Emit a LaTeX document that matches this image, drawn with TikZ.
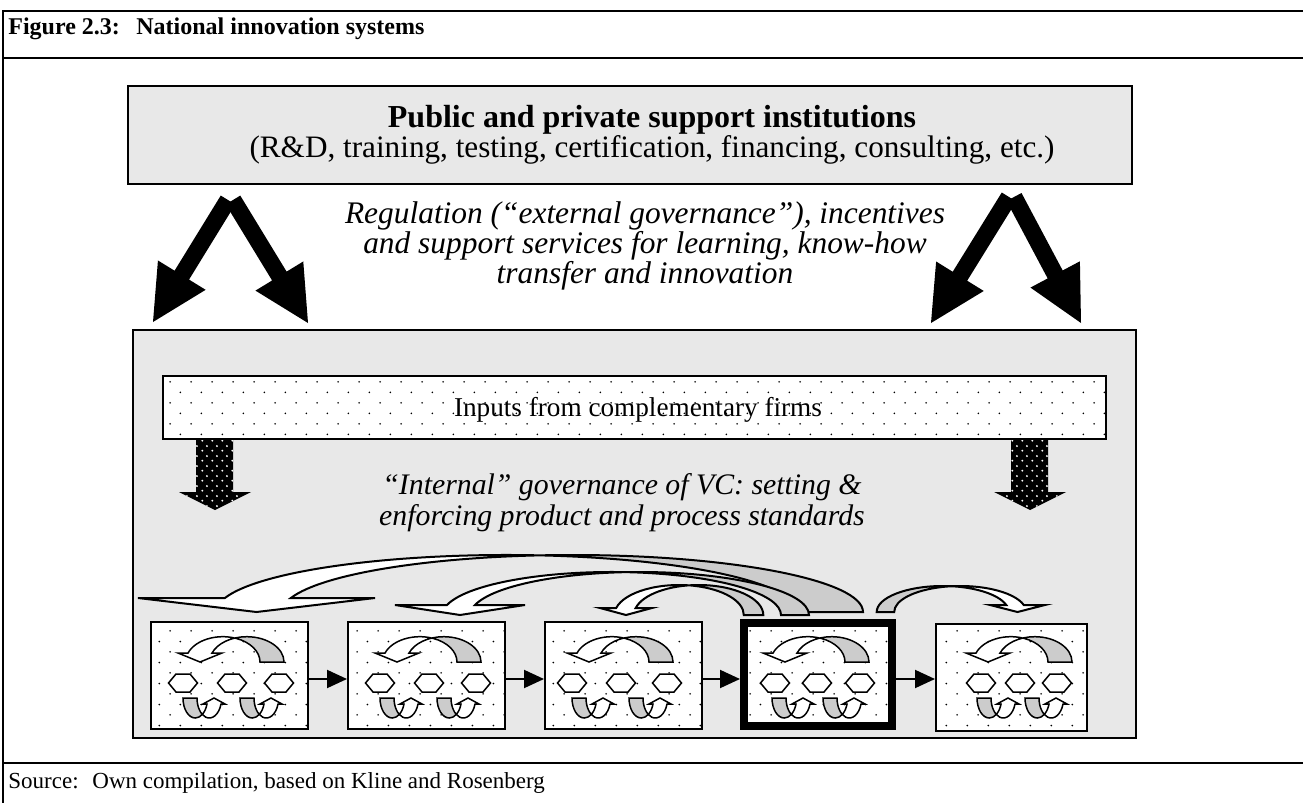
\documentclass[tikz,border=0pt]{standalone}
\usepackage{fontspec}
\setmainfont{Liberation Serif}
\usetikzlibrary{patterns.meta,calc,arrows.meta}

\definecolor{panelgray}{gray}{0.91}
\definecolor{backgray}{gray}{0.80}

% sparse staggered dots (light raster of the firm boxes)
\tikzdeclarepattern{name=sparsedots,type=uncolored,
  bottom left={(0pt,0pt)},top right={(10.35pt,10.4pt)},
  tile size={(10.35pt,10.4pt)},
  code={\fill (2.6pt,2.6pt) circle[radius=0.45pt];
        \fill (7.775pt,7.8pt) circle[radius=0.45pt];}}
% dense staggered dots (raster of the input arrows)
\tikzdeclarepattern{name=densedots,type=uncolored,
  bottom left={(0pt,0pt)},top right={(5pt,5pt)},
  tile size={(5pt,5pt)},
  code={\fill (1.25pt,1.25pt) circle[radius=0.55pt];
        \fill (3.75pt,3.75pt) circle[radius=0.55pt];}}

% Curved ribbon arrow: two equal half-ellipses shifted by the band width.
% #1 centre of front edge, #2 centre of back edge, #3 x radius, #4 y radius,
% #5 base line, #6 head base line, #7/#8 head barbs (head on the left)
\newcommand\cvarrow[8]{%
  \pgfmathsetmacro\cvAl{asin((#5-#6)/#4)}%
  \pgfmathsetmacro\cvHs{\cvAl-180}%
  \pgfmathsetmacro\cvU{(#2-#1)/(2*#3)}%
  \pgfmathsetmacro\cvTA{-acos(\cvU)}%
  \pgfmathsetmacro\cvTB{-acos(-\cvU)}%
  \pgfmathsetmacro\cvAx{#1-#3*cos(\cvAl)}%
  \pgfmathsetmacro\cvTx{(#7+#8)/2}%
  \pgfmathsetmacro\cvXc{(#1+#2)/2}%
  \pgfmathsetmacro\cvYc{#5+#4*sin(\cvTA)}%
  \def\cvoutline{(\cvAx,#6) arc[start angle=\cvHs,end angle=0,x radius=#3,y radius=#4]
    -- (#2+#3,#5) arc[start angle=0,end angle=\cvHs,x radius=#3,y radius=#4]
    -- (#8,#6) -- (\cvTx,#5) -- (#7,#6) -- cycle}%
  \fill[white] \cvoutline;
  \fill[backgray] (\cvXc,\cvYc) arc[start angle=\cvTB,end angle=0,x radius=#3,y radius=#4]
    -- (#1+#3,#5) arc[start angle=0,end angle=\cvTA,x radius=#3,y radius=#4] -- cycle;
  \draw[cvline] \cvoutline;
}

\newcommand\hexat[1]{%
  \draw[hexa] (#1-14.5,683) -- (#1-7,674) -- (#1+7,674) -- (#1+14.5,683)
    -- (#1+7,692) -- (#1-7,692) -- cycle;}

% contents of one firm box: #1 origin of the upper arrow, #2-#4 hexagons,
% #5/#6 origins of the two small U-turn arrows
\newcommand\firminside[6]{%
  \begin{scope}[shift={(#1,622)}]
    \cvarrow{71.8}{95.8}{37.2}{25.3}{40}{31}{27}{71}
  \end{scope}
  \hexat{#2}\hexat{#3}\hexat{#4}
  \begin{scope}[shift={(#5,698)},xscale=-1,yscale=-1]
    \cvarrow{-26.3}{-12.3}{12.3}{20}{0}{-6}{-42}{-20}
  \end{scope}
  \begin{scope}[shift={(#6,698)},xscale=-1,yscale=-1]
    \cvarrow{-26.3}{-12.3}{12.3}{20}{0}{-6}{-42}{-20}
  \end{scope}}

% broad black arrow from coordinate #1 to coordinate #2
\newcommand\fatarrow[2]{%
  \coordinate (fa-b) at ($(#2)!27.5pt!(#1)$);
  \fill ($(#1)!4.25pt!90:(#2)$) -- ($(fa-b)!4.25pt!90:(#2)$) -- ($(fa-b)!14pt!90:(#2)$)
    -- (#2) -- ($(fa-b)!14pt!-90:(#2)$) -- ($(fa-b)!4.25pt!-90:(#2)$)
    -- ($(#1)!4.25pt!-90:(#2)$) -- cycle;}

\begin{document}
\begin{tikzpicture}[x=0.5pt,y=-0.5pt,
  frame/.style={line width=1.25pt},
  panel/.style={draw=black, line width=1.1pt, fill=panelgray, inner sep=0pt},
  dotbox/.style={draw=black, line width=1pt, fill=white, inner sep=0pt,
    postaction={pattern=sparsedots, pattern color=black}},
  inarrow/.style={fill=black, postaction={pattern=densedots, pattern color=white}},
  txt/.style={inner sep=0pt, anchor=base},
  hexa/.style={draw=black, fill=white, line width=0.75pt},
  cvline/.style={line width=0.75pt, line join=miter},
  conn/.style={line width=1pt, -{Triangle[length=10pt,width=9pt]}},
  headfont/.style={font=\fontsize{12}{14}\selectfont\bfseries},
  srcfont/.style={font=\fontsize{11.5}{13}\selectfont},
  boldfont/.style={font=\fontsize{16}{18}\selectfont\bfseries},
  bigfont/.style={font=\fontsize{15.6}{18}\selectfont},
  infont/.style={font=\fontsize{13.6}{16}\selectfont},
  itfont/.style={font=\fontsize{15.7}{18}\selectfont\itshape},
  itfontb/.style={font=\fontsize{14.9}{18}\selectfont\itshape}]
\useasboundingbox (0,0) rectangle (1303,803);

% figure frame
\draw[frame] (3,803) -- (3,11) -- (1303,11);
\draw[frame] (3,58) -- (1303,58);
\draw[frame] (3,763) -- (1303,763);
\node[txt, anchor=base west, headfont] (fignum) at (8,34) {Figure 2.3:};
\node[txt, anchor=base west, headfont] (figtitle) at (136,34) {National innovation systems};
\node[txt, anchor=base west, srcfont] (srclabel) at (8,788) {Source:};
\node[txt, anchor=base west, srcfont] (srctext) at (92,788) {Own compilation, based on Kline and Rosenberg};

% support institutions
\node[panel, minimum width=502pt, minimum height=49pt] (inst) at (630,135) {};
\node[txt, boldfont] (inst1) at (652,127) {Public and private support institutions};
\node[txt, bigfont] (inst2) at (652,157) {(R\&D, training, testing, certification, financing, consulting, etc.)};

\node[txt, itfont] (reg1) at (645,223) {Regulation (“external governance”), incentives};
\node[txt, itfont] (reg2) at (645,253) {and support services for learning, know-how};
\node[txt, itfont] (reg3) at (645,283) {transfer and innovation};

% value chain panel
\node[panel, minimum width=501.5pt, minimum height=204pt] (vc) at (634.5,534) {};

% four broad arrows from the institutions to the value chain
\coordinate (la1) at (228,200); \coordinate (lt1) at (153,322);
\coordinate (la2) at (233,200); \coordinate (lt2) at (308,323);
\coordinate (ra1) at (1009,197); \coordinate (rt1) at (931,323);
\coordinate (ra2) at (1014,197); \coordinate (rt2) at (1081,323);
\fatarrow{la1}{lt1}
\fatarrow{la2}{lt2}
\fatarrow{ra1}{rt1}
\fatarrow{ra2}{rt2}

% complementary firms
\node[dotbox, minimum width=471.5pt, minimum height=31.5pt] (inputs) at (634.5,407.5) {};
\node[txt, infont] (inputstext) at (638,416) {Inputs from complementary firms};
\path[inarrow] (196,440) -- (196,492) -- (179,492) -- (215,510) -- (251,492)
  -- (233,492) -- (233,440) -- cycle;
\path[inarrow] (1011,440) -- (1011,492) -- (994,492) -- (1030,510) -- (1066,492)
  -- (1048,492) -- (1048,440) -- cycle;

\node[txt, itfontb] (gov1) at (622,494) {“Internal” governance of VC: setting \&};
\node[txt, itfontb] (gov2) at (622,525) {enforcing product and process standards};

% feedback arrows from the lead firm
\begin{scope}[cvline/.style={line width=1pt}]
  \cvarrow{506.5}{572.5}{290.5}{57}{612}{598}{138}{375}
  \cvarrow{611.7}{639.7}{169.3}{43}{615}{605}{395}{525}
  \cvarrow{679.1}{698.6}{64.7}{30}{615}{608}{600}{652}
  \begin{scope}[xscale=-1]
    \cvarrow{-960.2}{-942.7}{66}{26}{612}{605}{-1045}{-990}
  \end{scope}
\end{scope}

% firms of the value chain
\node[dotbox, minimum width=78.5pt, minimum height=53.5pt] (f1) at (229.5,675.5) {};
\node[dotbox, minimum width=78.5pt, minimum height=53.5pt] (f2) at (426.5,675.5) {};
\node[dotbox, minimum width=78.5pt, minimum height=53.5pt] (f3) at (623.5,675.5) {};
\node[dotbox, line width=4pt, minimum width=74pt, minimum height=51.5pt] (f4) at (818,674.5) {};
\node[dotbox, minimum width=75.5pt, minimum height=53.5pt] (f5) at (1011.5,677.5) {};

\firminside{151}{183}{232}{279}{183}{240}
\firminside{348}{380}{429}{476}{380}{437}
\firminside{540}{572}{621}{667}{572}{629}
\firminside{736}{775}{817}{860}{772}{823}
\firminside{939}{981}{1020}{1057}{977}{1025}

% flow along the chain
\coordinate (row) at (0,679);
\draw[conn] (f1.east |- row) -- (f2.west |- row);
\draw[conn] (f2.east |- row) -- (f3.west |- row);
\draw[conn] (f3.east |- row) -- (f4.west |- row);
\draw[conn] (f4.east |- row) -- (f5.west |- row);
\end{tikzpicture}
\end{document}
